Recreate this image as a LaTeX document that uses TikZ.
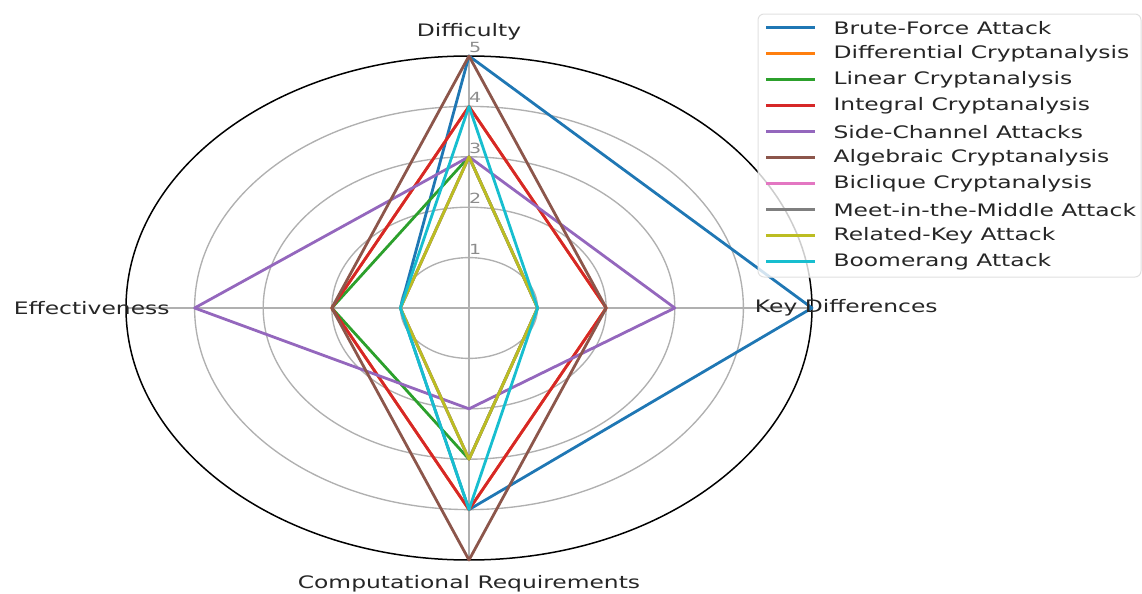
\documentclass[tikz,border=0pt]{standalone}
\usepackage{fontspec}
\setmainfont{DejaVu Sans}
\usepackage{tikz}
\usetikzlibrary{positioning}

\definecolor{tabblue}{HTML}{1F77B4}
\definecolor{taborange}{HTML}{FF7F0E}
\definecolor{tabgreen}{HTML}{2CA02C}
\definecolor{tabred}{HTML}{D62728}
\definecolor{tabpurple}{HTML}{9467BD}
\definecolor{tabbrown}{HTML}{8C564B}
\definecolor{tabpink}{HTML}{E377C2}
\definecolor{tabgray}{HTML}{7F7F7F}
\definecolor{tabolive}{HTML}{BCBD22}
\definecolor{tabcyan}{HTML}{17BECF}
\definecolor{gridgray}{HTML}{B0B0B0}
\definecolor{tickgray}{HTML}{8C8C8C}
\definecolor{txtgray}{HTML}{262626}

\tikzset{
  gridline/.style={draw=gridgray, line width=0.68pt},
  spine/.style={draw=black, line width=0.75pt},
  series/.style={line width=1.4pt, line join=round},
  axislabel/.style={font=\fontsize{8.6}{10}\selectfont, text=txtgray, xscale=1.36, inner sep=0pt},
  ticklabel/.style={font=\fontsize{7}{8}\selectfont, text=tickgray, xscale=1.36, inner sep=0pt},
  legendtext/.style={axislabel, anchor=west},
  legendframe/.style={draw=black!12, fill=white, fill opacity=0.8, rounded corners=3pt, line width=0.5pt},
}

\begin{document}
\begin{tikzpicture}[x=0.5pt, y=-0.5pt]
    \useasboundingbox (0,0) rectangle (1142,594);

    % Polar axes, one unit per rating step
    \begin{scope}[shift={(469,308)}, x=34.3pt, y=25.2pt]
        \coordinate (o) at (0,0);
        \coordinate (ax-d) at (0,5);
        \coordinate (ax-k) at (5,0);
        \coordinate (ax-c) at (0,-5);
        \coordinate (ax-e) at (-5,0);

        % Grid rings and spokes
        \foreach \r in {1,...,4}
            \draw[gridline] (o) ellipse [x radius=\r, y radius=\r];
        \foreach \a in {d,k,c,e}
            \draw[gridline] (o) -- (ax-\a);
        \draw[spine] (o) ellipse [x radius=5, y radius=5];

        % Radial tick labels
        \foreach \r in {1,...,5}
            \node[ticklabel] (tick-\r) at ({0.09},{\r+0.17}) {\r};

        % One closed line per attack: difficulty/key/computation/effectiveness
        \foreach \name/\col/\d/\k/\c/\e in {
            brute/tabblue/5/5/4/1,
            diff/taborange/4/2/4/2,
            linear/tabgreen/3/1/3/2,
            integral/tabred/4/2/4/2,
            side/tabpurple/3/3/2/4,
            algebraic/tabbrown/5/2/5/2,
            biclique/tabpink/3/1/3/1,
            meet/tabgray/3/1/3/1,
            related/tabolive/3/1/3/1,
            boomerang/tabcyan/4/1/4/1} {
            \coordinate (\name-d) at (0,\d);
            \coordinate (\name-k) at (\k,0);
            \coordinate (\name-c) at (0,-\c);
            \coordinate (\name-e) at (-\e,0);
            \draw[series, \col] (\name-d) -- (\name-k) -- (\name-c) -- (\name-e) -- cycle;
        }

        % Axis labels
        \node[axislabel] (lab-d) at (0,5.48) {Difficulty};
        \node[axislabel] (lab-k) at (5.5,0) {Key Differences};
        \node[axislabel] (lab-c) at (0,-5.48) {Computational Requirements};
        \node[axislabel] (lab-e) at (-5.5,0) {Effectiveness};
    \end{scope}

    % Legend
    \draw[legendframe] (758,14) rectangle (1141,277);
    \foreach \col/\txt [count=\i from 0] in {
        tabblue/Brute-Force Attack,
        taborange/Differential Cryptanalysis,
        tabgreen/Linear Cryptanalysis,
        tabred/Integral Cryptanalysis,
        tabpurple/Side-Channel Attacks,
        tabbrown/Algebraic Cryptanalysis,
        tabpink/Biclique Cryptanalysis,
        tabgray/Meet-in-the-Middle Attack,
        tabolive/Related-Key Attack,
        tabcyan/Boomerang Attack} {
        \pgfmathsetmacro\ly{27.8+26*\i}
        \coordinate (lg-a-\i) at (766,\ly);
        \coordinate (lg-b-\i) at (815,\ly);
        \draw[series, \col] (lg-a-\i) -- (lg-b-\i);
        \node[legendtext, right=9pt of lg-b-\i] (lg-t-\i) {\txt};
    }

\end{tikzpicture}
\end{document}
